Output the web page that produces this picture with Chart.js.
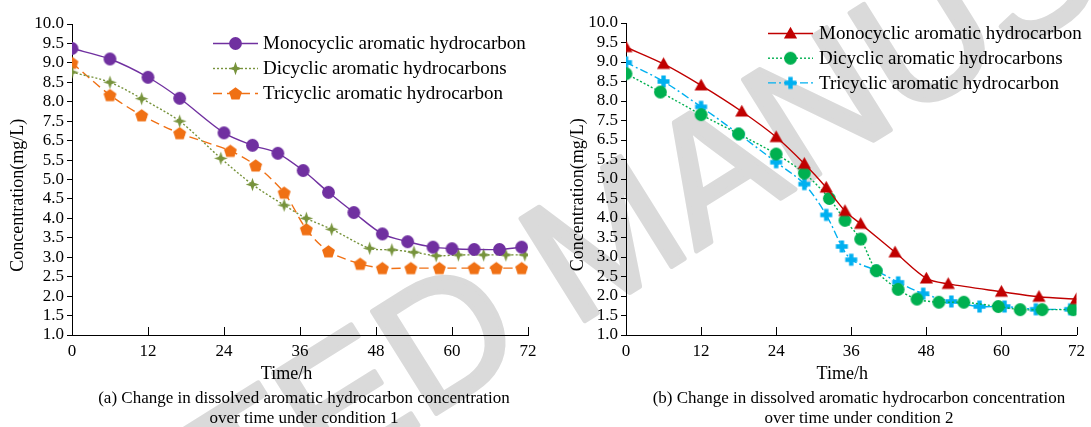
<!DOCTYPE html>
<html>
<head>
<meta charset="utf-8">
<script src="https://cdn.jsdelivr.net/npm/chart.js@4.4.0/dist/chart.umd.min.js"></script>
<style>
body{margin:0;width:1091px;height:427px;background:#fff;position:relative;overflow:hidden;font-family:"Liberation Serif","Times New Roman",serif;}
#stamp{position:absolute;left:0;top:0;z-index:0;}
.panel{position:absolute;top:0;height:385px;z-index:1;}
.caption{position:absolute;font-size:17px;line-height:20px;text-align:center;color:#000;white-space:nowrap;z-index:1;}
</style>
</head>
<body>
<canvas id="stamp" width="1091" height="427"></canvas>
<div class="panel" style="left:0;width:550px"><canvas id="chartA" width="550" height="385"></canvas></div>
<div class="panel" style="left:554px;width:537px"><canvas id="chartB" width="537" height="385"></canvas></div>
<div class="caption" style="left:54px;width:500px;top:388px">(a) Change in dissolved aromatic hydrocarbon concentration<br>over time under condition 1</div>
<div class="caption" style="left:609px;width:500px;top:388px">(b) Change in dissolved aromatic hydrocarbon concentration<br>over time under condition 2</div>
<script>
// Etiquettes de l'axe Y (telles qu'imprimées sur la figure, espacement régulier)
const yTickLabels = ['10.0','9.5','9.0','8.5','8.0','7.5','6.5','5.5','5.0','4.5','4.0','3.5','3.0','2.5','2.0','1.5','1.0'];

// Condition 1
const timeMono1 = [0, 6, 12, 17, 24, 28.5, 32.5, 36.5, 40.5, 44.5, 49, 53, 57, 60, 63.5, 67.5, 71];
const mono1 = [9.37, 9.1, 8.63, 8.09, 6.9, 6.26, 5.85, 5.23, 4.67, 4.15, 3.6, 3.4, 3.26, 3.22, 3.2, 3.2, 3.26];
const timeDi1 = [0, 6, 11, 17, 23.5, 28.5, 33.5, 37, 41, 47, 50.5, 54, 57.5, 61, 65, 68.5, 71.5];
const di1 = [8.76, 8.5, 8.08, 7.5, 5.59, 4.87, 4.34, 4.0, 3.72, 3.23, 3.19, 3.13, 3.04, 3.06, 3.06, 3.06, 3.06];
const timeTri1 = [0, 6, 11, 17, 25, 29, 33.5, 37, 40.5, 45.5, 49, 53.5, 58, 63.5, 67, 71];
const tri1 = [9.0, 8.17, 7.65, 6.88, 5.97, 5.36, 4.66, 3.72, 3.15, 2.83, 2.72, 2.72, 2.72, 2.72, 2.72, 2.72];

// Condition 2
const timeMono2 = [0, 6, 12, 18.5, 24, 28.5, 32, 35, 37.5, 43, 48, 51.5, 60, 66, 72];
const mono2 = [9.38, 8.95, 8.4, 7.73, 6.65, 5.39, 4.78, 4.18, 3.85, 3.12, 2.45, 2.31, 2.11, 1.98, 1.92];
const timeDi2 = [0, 5.5, 12, 18, 24, 28.5, 32.5, 35, 37.5, 40, 43.5, 46.5, 50, 54, 59.5, 63, 66.5, 71.5];
const di2 = [8.7, 8.23, 7.65, 6.81, 5.78, 5.15, 4.5, 3.94, 3.46, 2.65, 2.17, 1.92, 1.84, 1.84, 1.73, 1.65, 1.65, 1.65];
const timeTri2 = [0, 6, 12, 18, 24, 28.5, 32, 34.5, 36, 40, 43.5, 47.5, 52, 56.5, 60.5, 65.5, 71];
const tri2 = [8.99, 8.5, 7.85, 6.81, 5.43, 4.87, 4.08, 3.27, 2.93, 2.65, 2.35, 2.06, 1.86, 1.73, 1.73, 1.66, 1.66];

const seriesNames = ['Monocyclic aromatic hydrocarbon', 'Dicyclic aromatic hydrocarbons', 'Tricyclic aromatic hydrocarbon'];
const stampText = 'ACCEPTED MANUSCRIPT';

const serif = '"Liberation Serif", "Times New Roman", serif';
Chart.defaults.font.family = serif;
Chart.defaults.color = '#000';

// Filigrane en fond
(function drawStamp() {
    const ctx = document.getElementById('stamp').getContext('2d');
    ctx.font = '175px "Liberation Sans", Arial, sans-serif';
    const before = ctx.measureText('ACCEPTE').width;
    const dW = ctx.measureText('D').width;
    ctx.save();
    ctx.translate(445, 335);
    ctx.rotate(-32 * Math.PI / 180);
    ctx.fillStyle = '#dadada';
    ctx.strokeStyle = '#dadada';
    ctx.lineWidth = 5;
    ctx.lineJoin = 'round';
    ctx.fillText(stampText, -(before + dW / 2), 62);
    ctx.strokeText(stampText, -(before + dW / 2), 62);
    ctx.restore();
})();

// Position sur l'axe (index de l'étiquette) pour une valeur lue
function toAxis(v) {
    const vals = yTickLabels.map(parseFloat);
    for (let i = 0; i < vals.length - 1; i++) {
        if (v <= vals[i] && v >= vals[i + 1]) {
            return i + (vals[i] - v) / (vals[i] - vals[i + 1]);
        }
    }
    return v > vals[0] ? 0 : vals.length - 1;
}

function points(times, values) {
    return times.map((t, i) => ({ x: t, y: toAxis(values[i]) }));
}

// Marqueurs dessinés dans de petits canvas
function makeMarker(shape, color) {
    const c = document.createElement('canvas');
    c.width = 15; c.height = 15;
    const g = c.getContext('2d');
    const cx = 7.5, cy = 7.5;
    g.fillStyle = color;
    g.beginPath();
    if (shape === 'circle') {
        g.arc(cx, cy, 6.4, 0, Math.PI * 2);
    } else if (shape === 'star4') {
        for (let k = 0; k < 8; k++) {
            const r = k % 2 === 0 ? 6.8 : 2.4;
            const a = -Math.PI / 2 + k * Math.PI / 4;
            g.lineTo(cx + r * Math.cos(a), cy + r * Math.sin(a));
        }
    } else if (shape === 'pentagon') {
        for (let k = 0; k < 5; k++) {
            const a = -Math.PI / 2 + k * 2 * Math.PI / 5;
            g.lineTo(cx + 6.8 * Math.cos(a), cy + 0.6 + 6.8 * Math.sin(a));
        }
    } else if (shape === 'triangle') {
        g.moveTo(cx, 0.8);
        g.lineTo(cx + 6.6, 12.6);
        g.lineTo(cx - 6.6, 12.6);
    } else if (shape === 'plus') {
        g.rect(cx - 2.2, 1.5, 4.4, 12);
        g.rect(1.5, cy - 2.2, 12, 4.4);
    }
    g.closePath();
    g.fill();
    return c;
}

// Légende : segment de ligne + marqueur + texte
const lineLegend = {
    id: 'lineLegend',
    afterDraw(chart, args, opts) {
        const ctx = chart.ctx;
        ctx.save();
        chart.data.datasets.forEach((ds, i) => {
            const y = opts.top + i * opts.rowHeight;
            ctx.strokeStyle = ds.borderColor;
            ctx.lineWidth = ds.borderWidth;
            ctx.setLineDash(ds.borderDash || []);
            ctx.beginPath();
            ctx.moveTo(opts.left, y);
            ctx.lineTo(opts.left + opts.lineLength, y);
            ctx.stroke();
            ctx.setLineDash([]);
            const img = ds.pointStyle;
            ctx.drawImage(img, opts.left + opts.lineLength / 2 - img.width / 2, y - img.height / 2);
            ctx.fillStyle = '#000';
            ctx.font = opts.font;
            ctx.textBaseline = 'middle';
            ctx.fillText(ds.label, opts.left + opts.lineLength + opts.gap, y + 1);
        });
        ctx.restore();
    }
};

// Graduations de l'axe X tournées vers l'intérieur
const innerTicks = {
    id: 'innerTicks',
    afterDatasetsDraw(chart) {
        const sx = chart.scales.x;
        const ctx = chart.ctx;
        ctx.save();
        ctx.strokeStyle = '#000';
        ctx.lineWidth = 1;
        sx.ticks.forEach(t => {
            const px = Math.round(sx.getPixelForValue(t.value)) + 0.5;
            ctx.beginPath();
            ctx.moveTo(px, sx.top);
            ctx.lineTo(px, sx.top - 8);
            ctx.stroke();
        });
        ctx.restore();
    }
};

function makeDataset(label, data, color, marker, dash) {
    return {
        label: label,
        data: data,
        borderColor: color,
        backgroundColor: color,
        borderWidth: 1.4,
        borderDash: dash,
        pointStyle: marker,
        pointRadius: 7,
        tension: 0.3,
        fill: false
    };
}

function makeChart(id, datasets, pad, legendPos, titlePad, xTitle) {
    const ctx = document.getElementById(id).getContext('2d');
    return new Chart(ctx, {
        type: 'line',
        data: { datasets: datasets },
        options: {
            responsive: false,
            animation: false,
            events: [],
            layout: { padding: pad },
            plugins: {
                legend: { display: false },
                tooltip: { enabled: false },
                lineLegend: legendPos
            },
            scales: {
                x: {
                    type: 'linear',
                    min: 0,
                    max: 72,
                    afterFit: s => { s.height = 50; },
                    ticks: { stepSize: 12, font: { family: serif, size: 17 }, padding: 6, maxRotation: 0 },
                    grid: { display: true, drawOnChartArea: false, drawTicks: false, color: '#000' },
                    border: { display: true, color: '#000', width: 1 },
                    title: { display: true, text: xTitle, font: { family: serif, size: 18 }, padding: { top: 0, bottom: 0 } }
                },
                y: {
                    type: 'linear',
                    reverse: true,
                    min: 0,
                    max: 16,
                    afterFit: s => { s.width = 72; },
                    ticks: {
                        stepSize: 1,
                        autoSkip: false,
                        font: { family: serif, size: 17 },
                        padding: 3,
                        callback: v => yTickLabels[v]
                    },
                    grid: { display: true, drawOnChartArea: false, drawTicks: true, tickLength: 5, color: '#000' },
                    border: { display: true, color: '#000', width: 1 },
                    title: { display: true, text: 'Concentration(mg/L)       ', font: { family: serif, size: 18 }, padding: { top: titlePad, bottom: 0 } }
                }
            }
        },
        plugins: [lineLegend, innerTicks]
    });
}

// Graphique (a)
makeChart('chartA', [
    makeDataset(seriesNames[0], points(timeMono1, mono1), '#7030A0', makeMarker('circle', '#7030A0'), []),
    makeDataset(seriesNames[1], points(timeDi1, di1), '#77933C', makeMarker('star4', '#77933C'), [2, 2]),
    makeDataset(seriesNames[2], points(timeTri1, tri1), '#F07014', makeMarker('pentagon', '#F07014'), [9, 5])
], { left: 0, right: 22, top: 24, bottom: 0 },
   { left: 213, lineLength: 45, gap: 5, top: 43.5, rowHeight: 25, font: '19px ' + serif }, 7.5, 'Time/h      ');

// Graphique (b)
makeChart('chartB', [
    makeDataset(seriesNames[0], points(timeMono2, mono2), '#C00000', makeMarker('triangle', '#C00000'), []),
    makeDataset(seriesNames[1], points(timeDi2, di2), '#00B050', makeMarker('circle', '#00B050'), [2, 2]),
    makeDataset(seriesNames[2], points(timeTri2, tri2), '#00B0F0', makeMarker('plus', '#00B0F0'), [8, 3, 2, 3])
], { left: 0, right: 9, top: 23, bottom: 0 },
   { left: 214, lineLength: 45, gap: 6, top: 33.5, rowHeight: 24.7, font: '19px ' + serif }, 13.5, 'Time/h    ');
</script>
</body>
</html>
